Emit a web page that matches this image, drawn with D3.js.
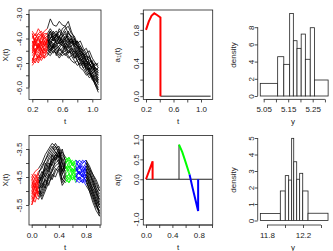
<!DOCTYPE html>
<html>
<head>
<meta charset="utf-8">
<script src="https://cdn.jsdelivr.net/npm/d3@7"></script>
<style>
body { margin: 0; background: #fff; }
svg { display: block; font-family: "Liberation Sans", Arial, sans-serif; }
.tick text, .lab { font-size: 8px; fill: #222; }
</style>
</head>
<body>
<div id="chart"></div>
<script>
// ---- top-left: X(t) paths, red up to tSplit1
const t1 = [0.20,0.24,0.28,0.32,0.36,0.40,0.44,0.48,0.52,0.56,0.60,0.64,0.68,0.72,0.76,0.80,0.84,0.88,0.92,0.96,1.00,1.04,1.08];
const tSplit1 = 0.40;
const paths1 = [
  [-4.3,-4.0,-3.8,-3.9,-3.7,-3.6,-3.2,-3.45,-3.5,-3.3,-3.45,-3.5,-3.3,-3.7,-4.0,-4.2,-4.5,-4.6,-4.8,-4.9,-5.0,-5.2,-5.3],
  [-3.7,-3.9,-3.6,-3.8,-4.0,-3.9,-3.7,-3.9,-3.8,-4.0,-3.6,-3.5,-3.8,-3.9,-4.2,-4.3,-4.6,-4.8,-4.7,-5.0,-5.2,-5.4,-5.5],
  [-4.1,-4.3,-4.0,-3.8,-4.1,-4.0,-4.2,-4.0,-3.9,-4.1,-4.0,-4.3,-4.1,-4.4,-4.5,-4.7,-4.6,-4.9,-5.1,-5.0,-5.3,-5.5,-5.7],
  [-4.6,-4.4,-4.6,-4.3,-4.2,-4.1,-4.0,-3.8,-4.0,-3.9,-4.2,-4.1,-4.4,-4.3,-4.6,-4.5,-4.8,-5.0,-5.2,-5.4,-5.5,-5.8,-6.1],
  [-5.1,-4.9,-4.7,-4.8,-4.5,-4.3,-4.5,-4.2,-4.4,-4.3,-4.1,-4.0,-4.2,-4.5,-4.4,-4.7,-4.9,-4.8,-5.1,-5.3,-5.6,-5.5,-5.8],
  [-4.8,-5.0,-4.7,-4.5,-4.6,-4.4,-4.2,-4.4,-4.3,-4.5,-4.4,-4.2,-4.0,-4.3,-4.2,-4.5,-4.4,-4.7,-4.9,-5.1,-5.0,-5.3,-5.2],
  [-4.0,-3.8,-4.1,-4.2,-3.9,-3.8,-3.6,-3.8,-3.7,-3.9,-3.8,-4.0,-3.9,-4.1,-4.4,-4.6,-4.5,-4.7,-5.0,-5.2,-5.4,-5.6,-5.9],
  [-4.4,-4.6,-4.3,-4.4,-4.6,-4.5,-4.3,-4.5,-4.6,-4.4,-4.5,-4.7,-4.5,-4.6,-4.8,-4.7,-4.9,-5.2,-5.1,-5.4,-5.6,-5.9,-6.2],
  [-3.9,-4.2,-4.4,-4.1,-4.3,-4.2,-4.0,-4.1,-3.9,-3.7,-3.9,-3.8,-4.1,-4.0,-4.3,-4.4,-4.7,-4.6,-4.9,-5.1,-5.2,-5.0,-5.1],
  [-4.7,-4.5,-4.2,-4.4,-4.3,-4.1,-4.3,-4.4,-4.2,-4.2,-4.3,-4.4,-4.6,-4.5,-4.7,-4.9,-5.1,-5.0,-5.3,-5.5,-5.4,-5.7,-5.6],
  [-4.2,-4.0,-3.8,-3.7,-3.9,-4.2,-4.4,-4.3,-4.1,-4.2,-4.1,-3.9,-4.0,-4.2,-4.1,-4.3,-4.6,-4.8,-4.9,-5.0,-5.3,-5.2,-5.4],
  [-4.9,-4.6,-4.8,-4.6,-4.4,-4.6,-4.7,-4.5,-4.6,-4.8,-4.6,-4.5,-4.7,-4.9,-5.0,-4.9,-5.2,-5.3,-5.5,-5.4,-5.7,-5.8,-6.0],
  [-4.5,-4.2,-4.4,-4.0,-3.8,-3.8,-4.0,-3.9,-4.1,-4.0,-4.2,-4.0,-3.8,-3.9,-4.0,-4.3,-4.4,-4.5,-4.7,-4.8,-5.0,-5.1,-5.0],
  [-4.3,-4.5,-4.7,-4.9,-4.7,-4.6,-4.4,-4.6,-4.4,-4.6,-4.7,-4.6,-4.8,-4.7,-4.9,-5.1,-5.0,-5.2,-5.4,-5.6,-5.5,-5.7,-5.8],
  [-3.8,-4.1,-4.0,-4.2,-4.0,-3.9,-4.1,-4.2,-4.3,-4.1,-4.3,-4.2,-4.3,-4.1,-4.3,-4.6,-4.8,-5.0,-4.9,-5.2,-5.4,-5.3,-5.5],
  [-5.0,-4.8,-5.0,-4.7,-4.8,-4.7,-4.5,-4.3,-4.5,-4.7,-4.5,-4.3,-4.5,-4.6,-4.5,-4.8,-4.7,-4.9,-5.2,-5.3,-5.6,-5.8,-5.7],
  [-3.8,-4.2,-3.9,-4.3,-4.1,-4.4,-4.1,-4.3,-4.0,-4.2,-3.9,-4.1,-3.7,-4.0,-4.3,-4.1,-4.5,-4.7,-4.6,-5.0,-4.9,-5.3,-5.4],
  [-4.6,-4.1,-4.5,-4.2,-4.5,-4.1,-3.8,-4.1,-3.8,-4.1,-3.9,-3.7,-4.0,-4.2,-4.0,-4.4,-4.3,-4.6,-4.9,-4.7,-5.1,-5.4,-5.6],
  [-5.0,-4.6,-4.9,-4.4,-4.8,-4.4,-4.6,-4.3,-4.7,-4.4,-4.6,-4.3,-4.6,-4.4,-4.8,-4.6,-5.0,-4.9,-5.3,-5.2,-5.6,-5.9,-6.1],
  [-4.1,-4.6,-4.3,-4.7,-4.3,-4.0,-3.7,-4.0,-4.2,-3.9,-4.1,-4.4,-4.2,-4.0,-4.2,-4.1,-4.3,-4.5,-4.4,-4.7,-5.0,-5.2,-5.3],
  [-4.4,-4.0,-4.3,-3.9,-4.3,-4.0,-4.3,-3.9,-4.2,-4.4,-4.2,-4.5,-4.3,-4.7,-4.6,-4.9,-4.8,-5.1,-5.0,-5.3,-5.1,-5.4,-5.7],
  [-4.9,-4.5,-4.2,-4.5,-4.1,-4.3,-4.0,-3.7,-3.9,-3.6,-3.8,-3.6,-3.5,-3.8,-3.9,-4.2,-4.1,-4.4,-4.6,-4.5,-4.8,-5.0,-5.2]
];

// ---- top-middle: a1(t)
const a1T = [0.20,0.24,0.28,0.32,0.36,0.41,0.41];
const a1V = [0.80,0.90,0.97,1.00,0.98,0.95,0.00];
const a1ZeroT = [0.41, 1.14];

// ---- top-right: histogram of y
const breaks3 = [5.036,5.107,5.132,5.156,5.171,5.186,5.203,5.220,5.240,5.257,5.313];
const dens3 = [1.47,4.57,3.68,9.6,6.43,5.54,7.2,4.27,7.94,1.86];

// ---- bottom-left: X(t) paths, coloured by segment
const t4 = [0,0.05,0.10,0.15,0.20,0.25,0.30,0.35,0.40,0.45,0.50,0.55,0.60,0.65,0.70,0.75,0.80,0.85,0.90,0.95,1.00];
const segBreaks4 = [0, 0.10, 0.50, 0.65, 0.80, 1.00];
const paths4 = [
  [-4.5,-4.3,-4.2,-4.0,-3.7,-3.5,-3.3,-3.4,-3.6,-3.9,-3.8,-3.9,-4.1,-4.0,-4.1,-3.9,-4.0,-4.3,-4.6,-4.9,-5.2],
  [-4.9,-4.6,-4.8,-4.4,-4.1,-3.8,-3.6,-3.4,-3.7,-4.0,-4.2,-4.0,-4.3,-4.2,-4.4,-4.3,-4.2,-4.5,-4.8,-5.0,-5.4],
  [-5.3,-5.0,-4.9,-4.6,-4.4,-4.1,-3.9,-3.7,-3.5,-3.8,-4.1,-4.3,-4.2,-4.4,-4.3,-4.5,-4.4,-4.6,-5.0,-5.3,-5.6],
  [-5.5,-5.2,-5.3,-5.0,-4.7,-4.5,-4.2,-4.0,-3.9,-4.2,-4.5,-4.4,-4.6,-4.5,-4.6,-4.4,-4.7,-4.9,-5.2,-5.5,-5.8],
  [-4.7,-4.9,-4.6,-4.3,-4.5,-4.2,-3.9,-3.7,-3.8,-4.3,-4.0,-3.9,-4.0,-4.2,-4.1,-4.3,-4.1,-4.4,-4.7,-5.1,-5.3],
  [-5.1,-4.8,-4.5,-4.7,-4.3,-4.0,-4.1,-3.8,-4.0,-4.6,-4.7,-4.5,-4.4,-4.6,-4.5,-4.6,-4.5,-4.8,-5.1,-5.4,-5.9],
  [-4.6,-4.4,-4.7,-4.5,-4.2,-3.9,-3.7,-3.5,-3.4,-3.7,-3.9,-3.8,-4.0,-3.9,-4.0,-4.2,-4.0,-4.2,-4.5,-4.8,-5.0],
  [-5.2,-5.4,-5.0,-5.1,-4.8,-4.6,-4.3,-4.1,-4.0,-4.4,-4.6,-4.7,-4.5,-4.6,-4.7,-4.6,-4.8,-5.0,-5.3,-5.6,-5.7],
  [-4.8,-4.5,-4.4,-4.1,-3.9,-3.7,-3.5,-3.3,-3.5,-4.1,-4.3,-4.1,-4.2,-4.3,-4.2,-4.1,-4.3,-4.4,-4.6,-4.9,-5.1],
  [-5.0,-5.2,-4.9,-4.8,-4.6,-4.4,-4.0,-3.8,-3.6,-4.0,-4.4,-4.2,-4.3,-4.1,-4.4,-4.5,-4.3,-4.7,-4.9,-5.2,-5.5],
  [-4.4,-4.6,-4.3,-4.2,-3.9,-3.6,-3.4,-3.6,-3.8,-3.6,-3.8,-4.0,-3.9,-4.1,-3.9,-4.0,-3.9,-4.1,-4.4,-4.7,-5.0],
  [-5.4,-5.1,-5.0,-5.3,-5.0,-4.7,-4.5,-4.2,-4.3,-4.8,-4.6,-4.4,-4.6,-4.4,-4.6,-4.7,-4.6,-4.9,-5.2,-5.5,-5.7],
  [-4.6,-5.0,-4.6,-4.9,-4.5,-4.3,-4.0,-3.7,-3.9,-4.4,-4.1,-4.4,-4.2,-4.5,-4.3,-4.5,-4.2,-4.6,-4.9,-5.1,-5.5],
  [-5.2,-4.8,-5.1,-4.7,-4.9,-4.5,-4.3,-3.9,-3.7,-4.3,-3.9,-4.2,-4.0,-4.3,-4.1,-4.4,-4.1,-4.3,-4.7,-5.0,-5.3],
  [-4.8,-5.2,-4.7,-4.5,-4.2,-4.3,-3.8,-3.6,-3.8,-3.5,-4.0,-3.8,-4.1,-3.9,-4.2,-4.0,-3.9,-4.2,-4.4,-4.6,-4.9],
  [-5.5,-5.1,-4.8,-5.2,-4.9,-4.4,-4.6,-4.3,-4.1,-4.7,-4.5,-4.7,-4.4,-4.7,-4.5,-4.7,-4.4,-4.8,-5.0,-5.3,-5.6],
  [-4.5,-4.8,-4.4,-4.6,-4.0,-4.2,-3.7,-3.9,-3.6,-3.9,-4.2,-4.1,-4.4,-4.2,-4.4,-4.2,-4.5,-4.7,-5.1,-5.4,-5.8],
  [-5.0,-4.7,-5.2,-4.9,-4.6,-4.8,-4.4,-4.5,-4.2,-4.6,-4.4,-4.6,-4.3,-4.5,-4.3,-4.5,-4.6,-5.0,-5.4,-5.7,-5.9]
];

// ---- bottom-middle: a(t)
const aZeroT = [0, 1.0];
const aRedT = [0, 0.10, 0.10];
const aRedV = [0, 0.45, 0];
const aStemT = [0.50, 0.50];
const aStemV = [0, 0.87];
const aGreenT = [0.50, 0.55, 0.60, 0.66];
const aGreenV = [0.87, 0.68, 0.43, 0.12];
const aBlueT = [0.66, 0.70, 0.75, 0.79, 0.79];
const aBlueV = [0.12, -0.18, -0.52, -0.80, 0];

// ---- bottom-right: histogram of y
const breaks6 = [11.726,11.948,12.003,12.041,12.074,12.097,12.130,12.163,12.197,12.256,12.478];
const dens6 = [0.42,1.79,2.72,2.45,4.98,3.56,2.5,2.86,1.79,0.44];

// ---- ticks
const xTicks1 = [0.2,0.4,0.6,0.8,1.0], xLab1 = [0.2,0.6,1.0];
const yTicks1 = [-6,-5.5,-5,-4.5,-4,-3.5,-3], yLab1 = [-6,-5,-4,-3];
const yTicks2 = [0,0.2,0.4,0.6,0.8,1.0], yLab2 = [0,0.4,0.8];
const xTicks3 = [5.05,5.10,5.15,5.20,5.25,5.30], xLab3 = [5.05,5.15,5.25];
const yTicks3 = [0,2,4,6,8];
const xTicks4 = [0,0.2,0.4,0.6,0.8,1.0], xLab4 = [0,0.4,0.8];
const yTicks4 = [-5.5,-5,-4.5,-4,-3.5], yLab4 = [-5.5,-4.5,-3.5];
const yTicks5 = [-1,-0.5,0,0.5,1], yLab5 = [-1,0,0.5,1];
const xTicks6 = [11.8,12.0,12.2,12.4], xLab6 = [11.8,12.2];
const yTicks6 = [0,1,2,3,4,5];

const W = 333, H = 251;
const svg = d3.select('#chart').append('svg').attr('width', W).attr('height', H);

function fmt(d, dec) {
  return d.toFixed(dec);
}

// draws R-style axes, returns the y title text node
function axes(o) {
  const g = svg.append('g');
  if (o.box) {
    g.append('rect')
      .attr('x', o.box[0]).attr('y', o.box[2])
      .attr('width', o.box[1] - o.box[0]).attr('height', o.box[3] - o.box[2])
      .attr('fill', 'none').attr('stroke', '#222').attr('stroke-width', 0.8);
  }
  const xa = g.append('g').attr('transform', `translate(0,${o.xAxisY})`)
    .call(d3.axisBottom(o.x).tickValues(o.xTicks).tickSize(3).tickSizeOuter(0)
      .tickFormat(d => o.xLab.some(v => Math.abs(v - d) < 1e-9) ? fmt(d, o.xDec) : ''));
  xa.select('.domain').remove();
  xa.append('line')
    .attr('x1', o.x(o.xTicks[0])).attr('x2', o.x(o.xTicks[o.xTicks.length - 1]))
    .attr('stroke', '#222').attr('stroke-width', 0.8);
  xa.selectAll('.tick line').attr('stroke', '#222').attr('stroke-width', 0.8);
  xa.selectAll('.tick text').attr('y', o.xOff).attr('dy', '0.35em');

  const ya = g.append('g').attr('transform', `translate(${o.yAxisX},0)`)
    .call(d3.axisLeft(o.y).tickValues(o.yTicks).tickSize(3).tickSizeOuter(0)
      .tickFormat(d => o.yLab.some(v => Math.abs(v - d) < 1e-9) ? fmt(d, o.yDec) : ''));
  ya.select('.domain').remove();
  ya.append('line')
    .attr('y1', o.y(o.yTicks[0])).attr('y2', o.y(o.yTicks[o.yTicks.length - 1]))
    .attr('stroke', '#222').attr('stroke-width', 0.8);
  ya.selectAll('.tick line').attr('stroke', '#222').attr('stroke-width', 0.8);
  ya.selectAll('.tick text')
    .attr('transform', 'rotate(-90)')
    .attr('x', 0).attr('y', -o.yOff).attr('dy', '0.35em')
    .attr('text-anchor', 'middle');

  g.append('text').attr('class', 'lab')
    .attr('x', o.xTitleX).attr('y', o.xTitleY).attr('dy', '0.35em')
    .attr('text-anchor', 'middle').text(o.xTitle);
  const yt = g.append('text').attr('class', 'lab')
    .attr('transform', `translate(${o.yTitleX},${o.yTitleY}) rotate(-90)`)
    .attr('dy', '0.35em').attr('text-anchor', 'middle');
  return yt;
}

// ---------- panel 1
{
  const x = d3.scaleLinear().domain([0.2, 1.0]).range([32.3, 92.3]);
  const y = d3.scaleLinear().domain([-3, -6]).range([14, 87.5]);
  const line = d3.line().x(d => x(d[0])).y(d => y(d[1]));
  const g = svg.append('g');
  paths1.forEach(p => {
    const pts = t1.map((t, i) => [t, p[i]]);
    g.append('path').attr('d', line(pts.filter(d => d[0] >= tSplit1 - 1e-9)))
      .attr('fill', 'none').attr('stroke', '#000').attr('stroke-width', 0.8);
  });
  paths1.forEach(p => {
    const pts = t1.map((t, i) => [t, p[i]]);
    g.append('path').attr('d', line(pts.filter(d => d[0] <= tSplit1 + 1e-9)))
      .attr('fill', 'none').attr('stroke', '#ff0000').attr('stroke-width', 0.8);
  });
  axes({x, y, box: [29, 101, 10, 99.5], xTicks: xTicks1, xLab: xLab1, yTicks: yTicks1, yLab: yLab1,
    xDec: 1, yDec: 1, xAxisY: 99.5, yAxisX: 29, xOff: 9.5, yOff: 10,
    xTitle: 't', xTitleX: 65, xTitleY: 121, yTitleX: 5, yTitleY: 55}).text('X(t)');
}

// ---------- panel 2
{
  const x = d3.scaleLinear().domain([0.2, 1.0]).range([146, 201]);
  const y = d3.scaleLinear().domain([-0.04, 1.04]).range([99.5, 10]);
  const line = d3.line().x(d => x(d[0])).y(d => y(d[1]));
  svg.append('path').attr('d', line(a1ZeroT.map(t => [t, 0])))
    .attr('fill', 'none').attr('stroke', '#222').attr('stroke-width', 1);
  svg.append('path').attr('d', line(a1T.map((t, i) => [t, a1V[i]])))
    .attr('fill', 'none').attr('stroke', '#ff0000').attr('stroke-width', 2);
  const yt = axes({x, y, box: [143.3, 212.7, 10, 99.5], xTicks: xTicks1, xLab: xLab1, yTicks: yTicks2, yLab: yLab2,
    xDec: 1, yDec: 1, xAxisY: 99.5, yAxisX: 143.3, xOff: 9.5, yOff: 7.5,
    xTitle: 't', xTitleX: 178, xTitleY: 121, yTitleX: 117, yTitleY: 55});
  yt.text('a');
  yt.append('tspan').attr('font-size', '5.5px').attr('dy', '1.5').text('1');
  yt.append('tspan').attr('dy', '-1.5').text('(t)');
}

// ---------- histogram helper
function hist(breaks, dens, x, y, g) {
  g.selectAll('rect.bar').data(dens).join('rect').attr('class', 'bar')
    .attr('x', (d, i) => x(breaks[i]))
    .attr('width', (d, i) => x(breaks[i + 1]) - x(breaks[i]))
    .attr('y', d => y(d))
    .attr('height', d => y(0) - y(d))
    .attr('fill', '#fff').attr('stroke', '#222').attr('stroke-width', 0.8);
}

// ---------- panel 3
{
  const x = d3.scaleLinear().domain([5.05, 5.25]).range([263.7, 312.7]);
  const y = d3.scaleLinear().domain([0, 8]).range([96, 27.2]);
  hist(breaks3, dens3, x, y, svg.append('g'));
  axes({x, y, box: null, xTicks: xTicks3, xLab: xLab3, yTicks: yTicks3, yLab: yTicks3,
    xDec: 2, yDec: 0, xAxisY: 99.4, yAxisX: 257.7, xOff: 9.5, yOff: 6.5,
    xTitle: 'y', xTitleX: 293, xTitleY: 121, yTitleX: 233.5, yTitleY: 55}).text('density');
}

// ---------- panel 4
{
  const x = d3.scaleLinear().domain([0, 0.8]).range([31.7, 86]);
  const y = d3.scaleLinear().domain([-3.5, -5.5]).range([149, 205]);
  const line = d3.line().x(d => x(d[0])).y(d => y(d[1]));
  const segColors = ['#ff0000', '#000000', '#00ff00', '#0000ff', '#000000'];
  const g = svg.append('g');
  [1, 4, 0, 2, 3].forEach(s => {
    paths4.forEach(p => {
      const pts = t4.map((t, i) => [t, p[i]])
        .filter(d => d[0] >= segBreaks4[s] - 1e-9 && d[0] <= segBreaks4[s + 1] + 1e-9);
      g.append('path').attr('d', line(pts))
        .attr('fill', 'none').attr('stroke', segColors[s]).attr('stroke-width', 0.8);
    });
  });
  axes({x, y, box: [29, 101, 135.5, 225], xTicks: xTicks4, xLab: xLab4, yTicks: yTicks4, yLab: yLab4,
    xDec: 1, yDec: 1, xAxisY: 225, yAxisX: 29, xOff: 10, yOff: 10,
    xTitle: 't', xTitleX: 65, xTitleY: 247, yTitleX: 5, yTitleY: 180}).text('X(t)');
}

// ---------- panel 5
{
  const x = d3.scaleLinear().domain([0, 1.0]).range([146, 212]);
  const y = d3.scaleLinear().domain([1, -1]).range([139.5, 219]);
  const line = d3.line().x(d => x(d[0])).y(d => y(d[1]));
  const draw = (T, V, color, w) => svg.append('path')
    .attr('d', line(T.map((t, i) => [t, V[i]])))
    .attr('fill', 'none').attr('stroke', color).attr('stroke-width', w);
  draw(aZeroT, [0, 0], '#222', 1);
  draw(aStemT, aStemV, '#222', 1);
  draw(aRedT, aRedV, '#ff0000', 2);
  draw(aGreenT, aGreenV, '#00ff00', 2);
  draw(aBlueT, aBlueV, '#0000ff', 2);
  axes({x, y, box: [143.3, 212.7, 135.5, 225], xTicks: xTicks4, xLab: xLab4, yTicks: yTicks5, yLab: yLab5,
    xDec: 1, yDec: 1, xAxisY: 225, yAxisX: 143.3, xOff: 10, yOff: 7.5,
    xTitle: 't', xTitleX: 178, xTitleY: 247, yTitleX: 117, yTitleY: 180}).text('a(t)');
}

// ---------- panel 6
{
  const x = d3.scaleLinear().domain([11.8, 12.2]).range([267, 303]);
  const y = d3.scaleLinear().domain([0, 5]).range([220.5, 138]);
  hist(breaks6, dens6, x, y, svg.append('g'));
  axes({x, y, box: null, xTicks: xTicks6, xLab: xLab6, yTicks: yTicks6, yLab: yTicks6,
    xDec: 1, yDec: 0, xAxisY: 225, yAxisX: 257.7, xOff: 10, yOff: 6.5,
    xTitle: 'y', xTitleX: 293, xTitleY: 247, yTitleX: 233.5, yTitleY: 180}).text('density');
}
</script>
</body>
</html>
